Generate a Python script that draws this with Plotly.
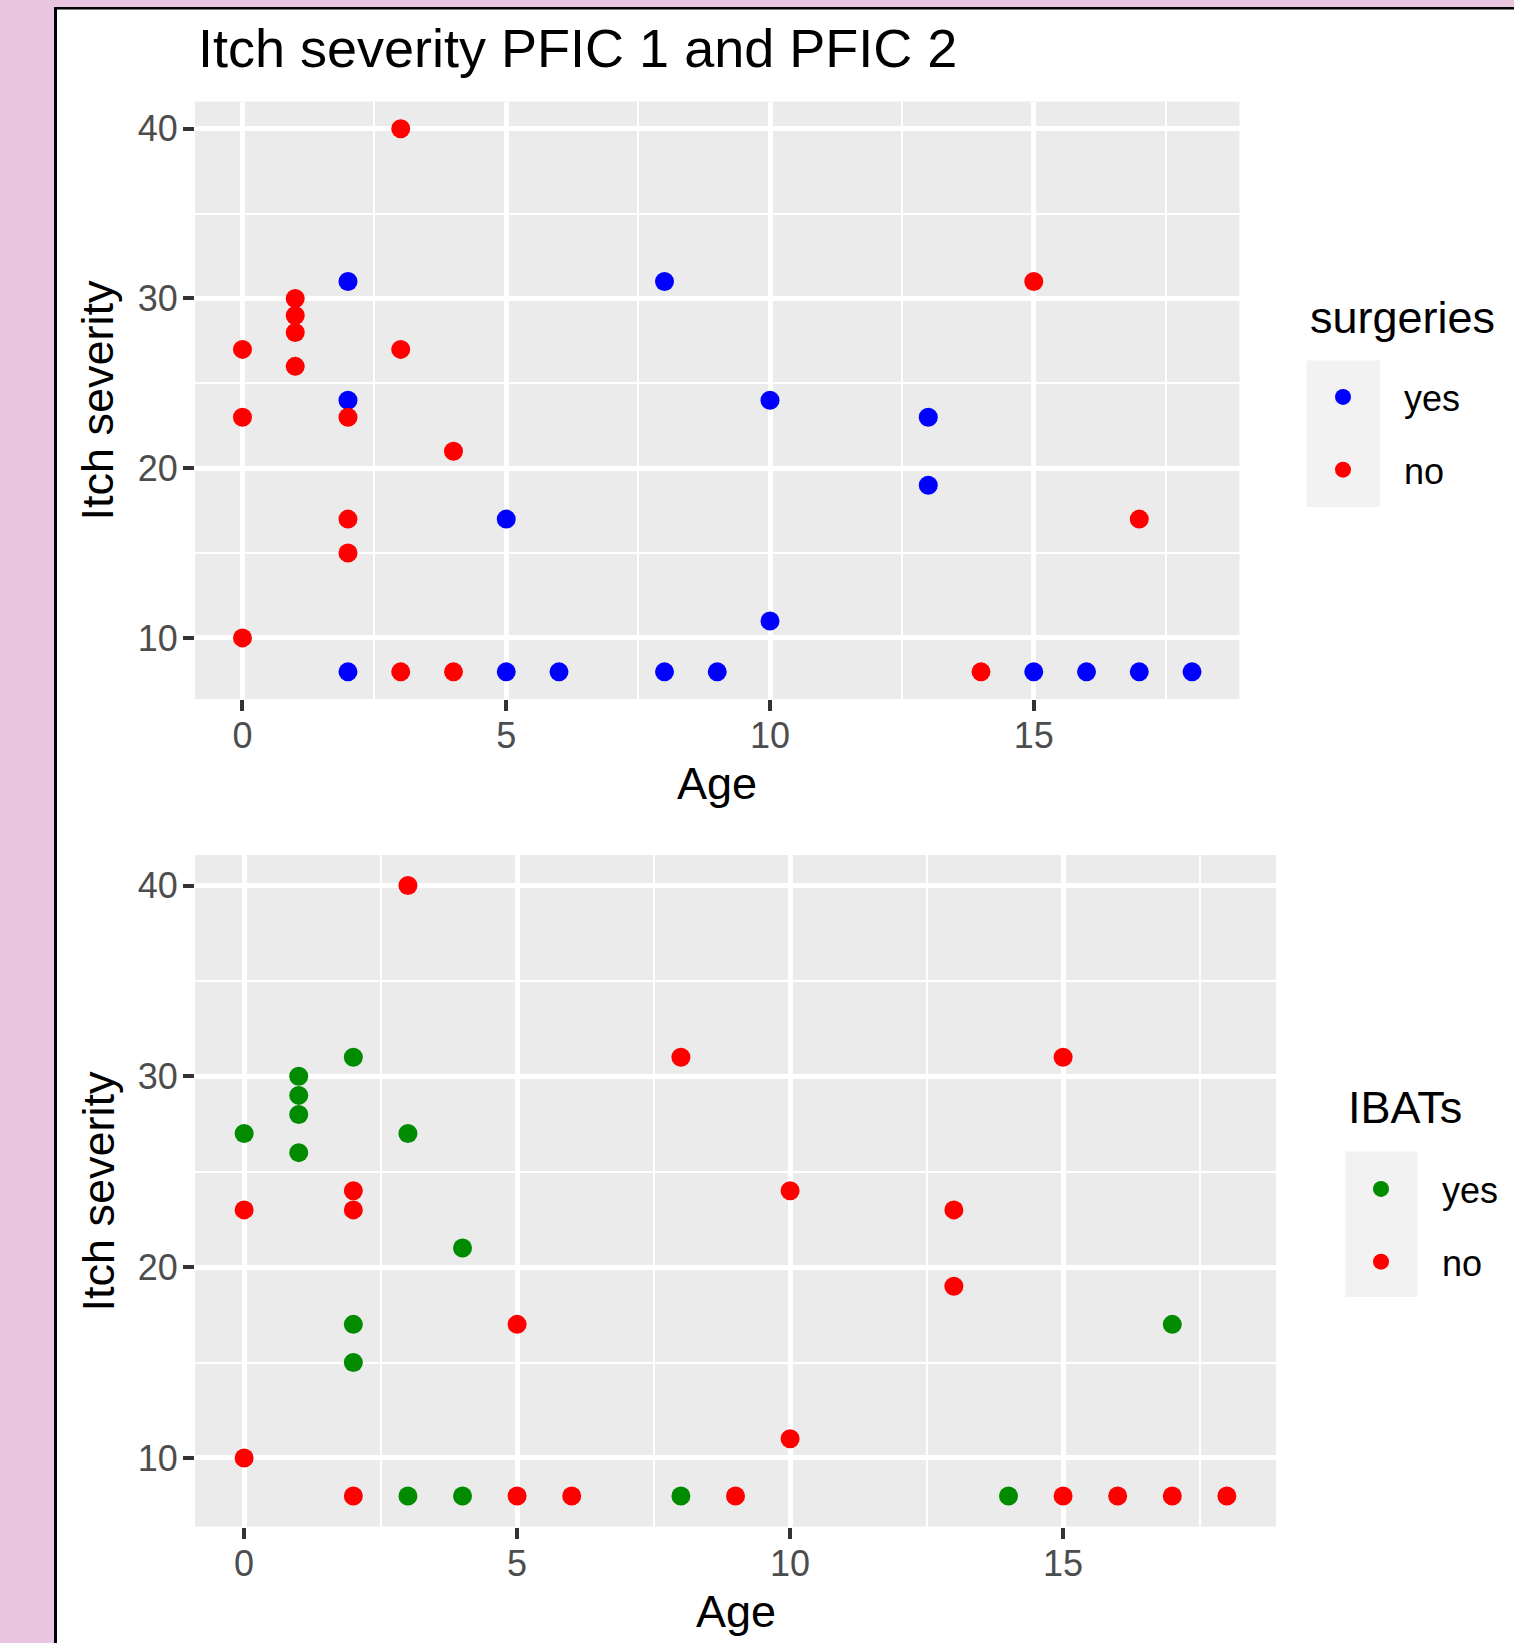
import plotly.graph_objects as go

# ---------------- data ----------------
age = [0, 0, 0, 1, 1, 1, 1, 2, 2, 2, 2, 2, 2, 3, 3, 3, 4, 4, 5, 5, 6, 8, 8, 9,
       10, 10, 13, 13, 14, 15, 15, 16, 17, 17, 18]
itch = [27, 23, 10, 30, 29, 28, 26, 31, 24, 23, 17, 15, 8, 40, 27, 8, 21, 8, 17, 8, 8, 31, 8, 8,
        24, 11, 23, 19, 8, 31, 8, 8, 17, 8, 8]
surgeries = ["no", "no", "no", "no", "no", "no", "no",
             "yes", "yes", "no", "no", "no", "yes",
             "no", "no", "no", "no", "no", "yes", "yes", "yes", "yes", "yes", "yes",
             "yes", "yes", "yes", "yes", "no", "no", "yes", "yes", "no", "yes", "yes"]
ibats = ["yes", "no", "no", "yes", "yes", "yes", "yes",
         "yes", "no", "no", "yes", "yes", "no",
         "no", "yes", "yes", "yes", "yes", "no", "no", "no", "no", "yes", "no",
         "no", "no", "no", "no", "yes", "no", "no", "no", "yes", "no", "no"]
levels = ["yes", "no"]
surg_colors = {"yes": "#0000FF", "no": "#FF0000"}
ibat_colors = {"yes": "#008B00", "no": "#FF0000"}
title_text = "Itch severity PFIC 1 and PFIC 2"

W, H = 1514, 1643
def px(x):
    return x / W
def py(y):
    return 1 - y / H

FONT = "Liberation Sans, Arial, sans-serif"
fig = go.Figure()

def add_group(var, colors, xa, ya, leg):
    for lv in levels:
        xs = [a for a, v in zip(age, var) if v == lv]
        ys = [b for b, v in zip(itch, var) if v == lv]
        fig.add_trace(go.Scatter(
            x=xs, y=ys, mode="markers", name=lv, legendgroup=leg + lv,
            marker=dict(color=colors[lv], size=19, line=dict(width=0)),
            xaxis=xa, yaxis=ya, legend=leg, showlegend=True))

add_group(surgeries, surg_colors, "x", "y", "legend")
add_group(ibats, ibat_colors, "x2", "y2", "legend2")

axis_common = dict(
    showgrid=True, gridcolor="white", gridwidth=4.5,
    zeroline=False, showline=False,
    ticks="outside", ticklen=11, tickwidth=4, tickcolor="#333333",
    tickfont=dict(family=FONT, size=36, color="#4D4D4D"),
)
xminor = dict(showgrid=True, gridcolor="white", gridwidth=2.3, dtick=2.5)
yminor = dict(showgrid=True, gridcolor="white", gridwidth=2.3, dtick=5)

xrange = [-0.9, 18.9]
yrange = [6.4, 41.6]
fig.update_layout(
    xaxis=dict(axis_common, domain=[px(195), px(1239.5)], range=xrange, dtick=5, tick0=0,
               minor=xminor, anchor="y", ticklabelstandoff=-6),
    yaxis=dict(axis_common, domain=[py(699), py(101.6)], range=yrange, dtick=10, tick0=0,
               minor=yminor, anchor="x", ticklabelstandoff=-2),
    xaxis2=dict(axis_common, domain=[px(195), px(1276)], range=xrange, dtick=5, tick0=0,
                minor=xminor, anchor="y2", ticklabelstandoff=-6),
    yaxis2=dict(axis_common, domain=[py(1526.6), py(855)], range=yrange, dtick=10, tick0=0,
                minor=yminor, anchor="x2", ticklabelstandoff=-2),
)

fig.update_layout(
    width=W, height=H, margin=dict(l=0, r=0, t=0, b=0),
    paper_bgcolor="white", plot_bgcolor="#EBEBEB",
    font=dict(family=FONT, color="black"),
    legend=dict(x=px(1282), y=py(367), xanchor="left", yanchor="top",
                bgcolor="rgba(0,0,0,0)", borderwidth=0, itemwidth=112,
                tracegroupgap=23, font=dict(family=FONT, size=36, color="black")),
    legend2=dict(x=px(1320), y=py(1159), xanchor="left", yanchor="top",
                 bgcolor="rgba(0,0,0,0)", borderwidth=0, itemwidth=112,
                 tracegroupgap=23, font=dict(family=FONT, size=36, color="black")),
)

shapes = [
    # pink frame
    dict(type="rect", xref="paper", yref="paper", x0=0, x1=px(54), y0=0, y1=1,
         fillcolor="#E9C5E0", line=dict(width=0), layer="below"),
    dict(type="rect", xref="paper", yref="paper", x0=0, x1=1, y0=py(7), y1=1,
         fillcolor="#E9C5E0", line=dict(width=0), layer="below"),
    dict(type="rect", xref="paper", yref="paper", x0=px(54), x1=px(57), y0=0, y1=py(7),
         fillcolor="black", line=dict(width=0), layer="below"),
    dict(type="rect", xref="paper", yref="paper", x0=px(54), x1=1, y0=py(9.5), y1=py(7),
         fillcolor="black", line=dict(width=0), layer="below"),
    # legend key backgrounds
    dict(type="rect", xref="paper", yref="paper", x0=px(1306.5), x1=px(1380), y0=py(507), y1=py(360.4),
         fillcolor="#F2F2F2", line=dict(width=0), layer="below"),
    dict(type="rect", xref="paper", yref="paper", x0=px(1345.3), x1=px(1417.6), y0=py(1297), y1=py(1151.5),
         fillcolor="#F2F2F2", line=dict(width=0), layer="below"),
]
fig.update_layout(shapes=shapes)

ann = [
    dict(text=title_text, x=px(196), y=py(47.5), xanchor="left", yanchor="middle",
         font=dict(family=FONT, size=54, color="black")),
    dict(text="Itch severity", x=px(97.5), y=py(400), textangle=-90, xanchor="center", yanchor="middle",
         font=dict(family=FONT, size=45, color="black")),
    dict(text="Age", x=px(717), y=py(783.7), xanchor="center", yanchor="middle",
         font=dict(family=FONT, size=45, color="black")),
    dict(text="Itch severity", x=px(97.5), y=py(1191), textangle=-90, xanchor="center", yanchor="middle",
         font=dict(family=FONT, size=45, color="black")),
    dict(text="Age", x=px(735.5), y=py(1611.5), xanchor="center", yanchor="middle",
         font=dict(family=FONT, size=45, color="black")),
    dict(text="surgeries", x=px(1307.6), y=py(317.5), xanchor="left", yanchor="middle",
         font=dict(family=FONT, size=45, color="black")),
    dict(text="IBATs", x=px(1346.4), y=py(1107.5), xanchor="left", yanchor="middle",
         font=dict(family=FONT, size=45, color="black")),
]
for a in ann:
    a.update(xref="paper", yref="paper", showarrow=False)
fig.update_layout(annotations=ann)

fig.write_html("out.html")
